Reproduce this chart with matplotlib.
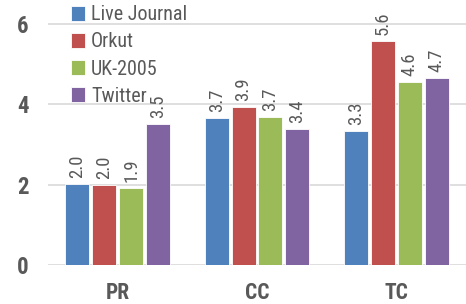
import matplotlib
matplotlib.use("Agg")
import matplotlib.pyplot as plt
import numpy as np
from matplotlib import font_manager

categories = ["PR", "CC", "TC"]
series_names = ["Live Journal", "Orkut", "UK-2005", "Twitter"]
live_journal = [2.02, 3.66, 3.34]
orkut = [1.99, 3.93, 5.58]
uk2005 = [1.92, 3.68, 4.56]
twitter = [3.51, 3.39, 4.65]
series_values = [live_journal, orkut, uk2005, twitter]
colors = ["#4F81BD", "#C0504D", "#9BBB59", "#8064A2"]
yticks = [0, 2, 4, 6]

names = {f.name for f in font_manager.fontManager.ttflist}
fam = "Liberation Sans"
for cand in ["Liberation Sans Narrow", "Roboto Condensed", "Open Sans Condensed"]:
    if cand in names:
        fam = cand
        break
plt.rcParams['font.family'] = [fam, "DejaVu Sans"]

fig = plt.figure(figsize=(4.66, 3.04), dpi=100)
ax = fig.add_axes([0.103, 0.128, 0.897, 0.872])

x = np.arange(len(categories))
step = 0.193
width = 0.172
text_color = "#595959"
for i, (name, vals) in enumerate(zip(series_names, series_values)):
    pos = x + (i - 1.5) * step
    ax.bar(pos, vals, width, color=colors[i], label=name, zorder=3,
           edgecolor="white", linewidth=0.6)
    for p, v in zip(pos, vals):
        ax.text(p, v + 0.16, f"{v:.1f}", rotation=90, ha="center", va="bottom",
                fontsize=13.5, color=text_color, clip_on=False)

ax.set_xlim(-0.5, 2.5)
ax.set_ylim(0, 6.6)
ax.set_yticks(yticks)
ax.set_yticklabels([str(t) for t in yticks], fontsize=16.5, fontweight="bold", color=text_color)
ax.set_xticks(x)
ax.set_xticklabels(categories, fontsize=15.5, fontweight="bold", color=text_color)
ax.tick_params(axis="both", length=0)
ax.tick_params(axis="y", pad=14)
ax.tick_params(axis="x", pad=12)
ax.grid(axis="y", color="#D9D9D9", linewidth=1.2, zorder=0)
for s in ax.spines.values():
    s.set_visible(False)

leg = ax.legend(loc="upper left", bbox_to_anchor=(0.035, 1.01), frameon=False,
                fontsize=14.5, handlelength=0.72, handleheight=0.72, handletextpad=0.3,
                labelspacing=0.4, borderaxespad=0)
for t in leg.get_texts():
    t.set_color(text_color)

fig.savefig("out.png", dpi=100)
